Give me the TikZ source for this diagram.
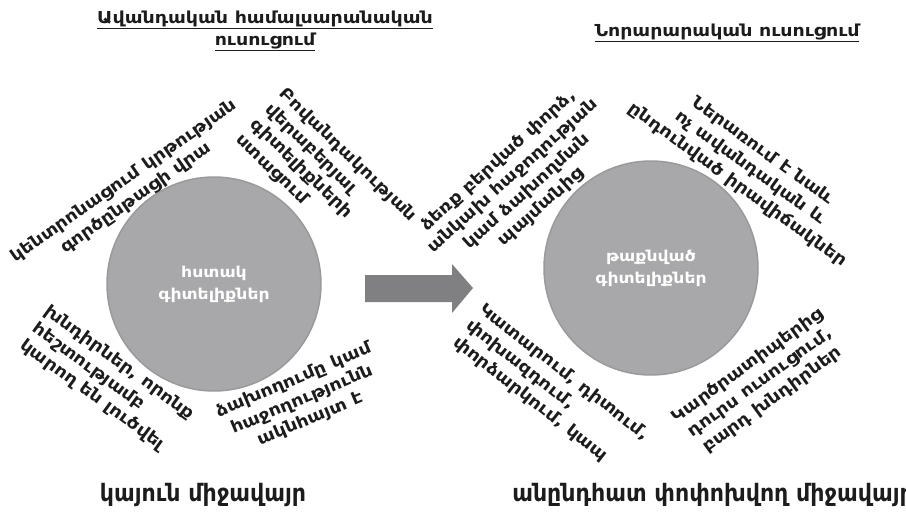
\documentclass[tikz,border=0pt]{standalone}
\usepackage{fontspec}
\setmainfont{DejaVu Sans}[FakeStretch=1.15]
\newfontfamily\narrowfont[FakeStretch=0.92]{DejaVu Sans}
\usepackage{tikz}
\definecolor{discgray}{HTML}{A8A8AA}
\definecolor{discedge}{HTML}{9A9A9C}
\definecolor{shiftgray}{HTML}{808083}
\definecolor{inkgray}{HTML}{1C1C1C}
\tikzset{%
  knowledge/.style = {circle, minimum size=214pt, fill=discgray,
    draw=discedge, line width=1.5pt, text=white, align=center,
    font=\bfseries\fontsize{15}{22}\selectfont},
  trait/.style = {align=center, inner sep=0pt, text=inkgray,
    font=\bfseries\fontsize{16.5}{21}\selectfont},
  heading/.style = {align=center, inner sep=0pt, text=inkgray,
    font=\bfseries\fontsize{16.5}{22}\selectfont},
  setting/.style = {inner sep=0pt, text=inkgray,
    font=\narrowfont\bfseries\fontsize{24}{28}\selectfont}
}

\begin{document}
\begin{tikzpicture}[x=1pt,y=-1pt]
  \useasboundingbox (0,0) rectangle (906,517);
  \node[heading] (oldtitle) at (265,31)
    {\underline{Ավանդական համալսարանական}\\ \underline{ուսուցում}};
  \node[heading] (newtitle) at (727,33) {\underline{Նորարարական ուսուցում}};
  \node[knowledge] (explicit) at (214,284) {հստակ\\ գիտելիքներ};
  \node[knowledge] (tacit) at (651,268) {թաքնված\\ գիտելիքներ};
  \fill[shiftgray] (365,275) -- (452,275) -- (452,264) -- (473,288)
    -- (452,313) -- (452,302) -- (365,302) -- cycle;
  \node[trait, rotate=35] (focus) at (130,190)
    {կենտրոնացում կրթության\\ գործընթացի վրա};
  \node[trait, rotate=-44, align=left] (content) at (326,178)
    {Բովանդակության\\ վերաբերյալ\\ գիտելիքների\\ ստացում};
  \node[trait, rotate=-36, align=left] (easy) at (107,380)
    {խնդիրներ, որոնք\\ հեշտությամբ\\ կարող են լուծվել};
  \node[trait, rotate=23] (obvious) at (302,400)
    {ձախողումը կամ\\ հաջողությունն\\ ակնհայտ է};
  \node[trait, rotate=42] (experience) at (520,184)
    {ձեռք բերված փորձ,\\ անկախ հաջողության\\ կամ ձախողման\\ պայմանից};
  \node[trait, rotate=-36] (unusual) at (750,168)
    {Ներառում է նաև\\ ոչ ավանդական և\\ ընդունված իրավիճակներ};
  \node[trait, rotate=-38, align=left] (practice) at (551,389)
    {Կատարում, դիտում,\\ փոխազդում,\\ փորձարկում, կապ};
  \node[trait, rotate=36] (complex) at (760,383)
    {Կարծրատիպերից\\ դուրս ուսուցում,\\ բարդ խնդիրներ};
  \node[setting] (stable) at (203,495) {կայուն միջավայր};
  \node[setting] (changing) at (713,495) {անընդհատ փոփոխվող միջավայր};
\end{tikzpicture}
\end{document}
